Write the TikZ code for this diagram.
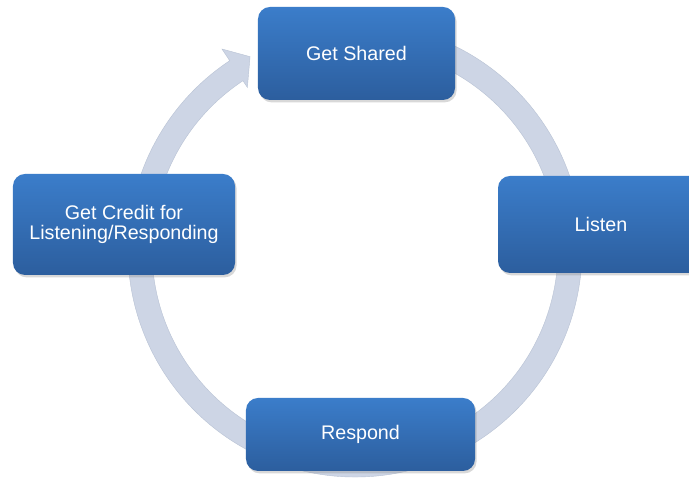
\documentclass[tikz,border=0pt]{standalone}
\usepackage{fontspec}
\setmainfont{Liberation Sans}
\usetikzlibrary{shadows}

\definecolor{boxtop}{HTML}{3B7DCA}
\definecolor{boxbottom}{HTML}{2C5E9E}
\definecolor{ringfill}{HTML}{CDD5E5}
\definecolor{ringedge}{HTML}{B9C3D5}

\tikzset{
  stepbox/.style={rectangle, rounded corners=3mm, top color=boxtop, bottom color=boxbottom,
    text=white, align=center, font=\fontsize{14}{14.5}\selectfont,
    drop shadow={opacity=0.3, shadow xshift=0.4mm, shadow yshift=-0.6mm}},
}

\begin{document}
\begin{tikzpicture}[x=0.25mm,y=0.25mm]
    \clip (0,0) rectangle (689,479);
    \fill[white] (0,0) rectangle (689,479);

    % the ring, ending in its arrow head near the top
    \begin{scope}[shift={(355,229)}]
    \fill[ringfill, draw=ringedge, line width=0.3pt]
        (80:227) arc[start angle=80, end angle=-236.5, radius=227]
        -- (123.5:241) -- (118.5:220) -- (123.5:195)
        -- (123.5:203) arc[start angle=-236.5, end angle=80, radius=203] -- cycle;
    \end{scope}

    % the four steps
    \node[stepbox, minimum width=49.25mm, minimum height=23.25mm] (shared) at (356.5,425.5) {Get Shared};
    \node[stepbox, minimum width=51.5mm, minimum height=24.25mm] (listen) at (601,254.5) {Listen};
    \node[stepbox, minimum width=57.25mm, minimum height=18.25mm] (respond) at (360.5,44.5) {Respond};
    \node[stepbox, minimum width=55.5mm, minimum height=25.25mm] (credit) at (124,254.5) {Get Credit for\\Listening/Responding};
\end{tikzpicture}
\end{document}
